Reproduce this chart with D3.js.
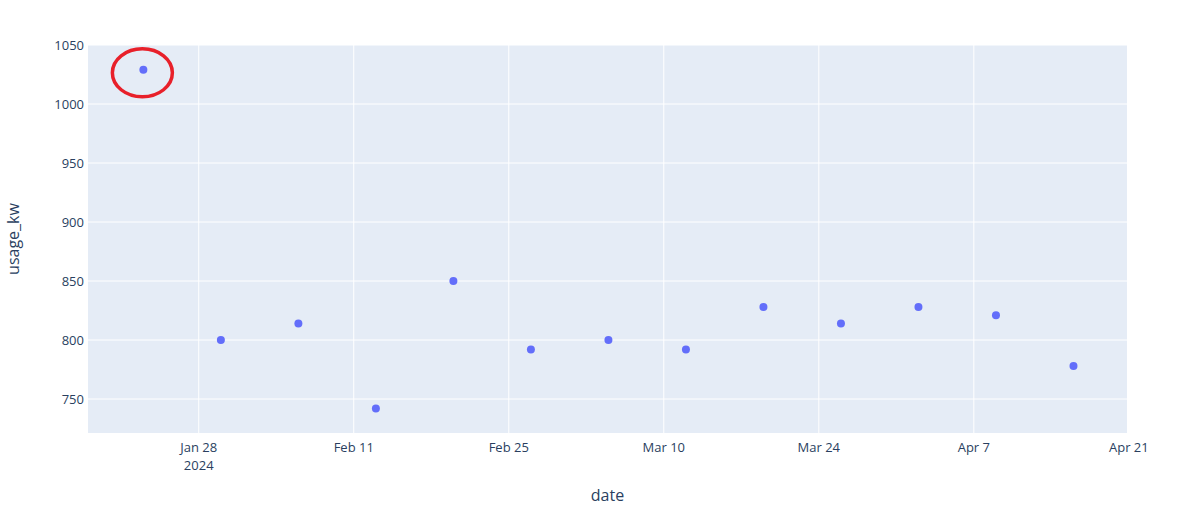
<!DOCTYPE html>
<html><head><meta charset="utf-8">
<script src="https://cdn.jsdelivr.net/npm/d3@7"></script>
<style>body{margin:0;background:#fff}text{font-family:"Open Sans",sans-serif;fill:#2a3f5f}</style>
</head><body><svg id="c" width="1195" height="516"></svg>
<script>
const dates = ["2024-01-23","2024-01-30","2024-02-06","2024-02-13","2024-02-20","2024-02-27","2024-03-05","2024-03-12","2024-03-19","2024-03-26","2024-04-02","2024-04-09","2024-04-16"];
const usage = [1029,800,814,742,850,792,800,792,828,814,828,821,778];
const xTicks = ["2024-01-28","2024-02-11","2024-02-25","2024-03-10","2024-03-24","2024-04-07","2024-04-21"];
const xTickLabels = ["Jan 28","Feb 11","Feb 25","Mar 10","Mar 24","Apr 7","Apr 21"];
const yTicks = [750,800,850,900,950,1000,1050];
const highlightIndex = 0;

const p = d3.timeParse("%Y-%m-%d");
const L=88,R=1127,T=45,B=433;
const svg=d3.select("#c");
const x=d3.scaleTime().domain([new Date(2024,0,18,0), new Date(2024,3,20,20)]).range([L,R]);
const y=d3.scaleLinear().domain([721.2,1050]).range([B,T]);
svg.append("rect").attr("x",L).attr("y",T).attr("width",R-L).attr("height",B-T).attr("fill","#e5ecf6");
const g=svg.append("g");
xTicks.forEach(t=>g.append("line").attr("x1",x(p(t))).attr("x2",x(p(t))).attr("y1",T).attr("y2",B).attr("stroke","#fff").attr("stroke-width",1));
yTicks.forEach(t=>g.append("line").attr("x1",L).attr("x2",R).attr("y1",y(t)).attr("y2",y(t)).attr("stroke","#fff").attr("stroke-width",1));
xTicks.forEach((t,i)=>{
  const tx=svg.append("text").attr("x",x(p(t))).attr("y",B+19).attr("text-anchor","middle").attr("font-size",13).text(xTickLabels[i]);
  if(i===0) svg.append("text").attr("x",x(p(t))).attr("y",B+37).attr("text-anchor","middle").attr("font-size",13).text("2024");
});
yTicks.forEach(t=>svg.append("text").attr("x",L-4).attr("y",y(t)+5).attr("text-anchor","end").attr("font-size",13).text(t));
svg.append("text").attr("x",(L+R)/2).attr("y",501).attr("text-anchor","middle").attr("font-size",16).text("date");
svg.append("text").attr("transform",`translate(19,${(T+B)/2}) rotate(-90)`).attr("text-anchor","middle").attr("font-size",16).text("usage_kw");
svg.selectAll("circle.pt").data(dates).join("circle").attr("class","pt")
  .attr("cx",(d)=>x(p(d))).attr("cy",(d,i)=>y(usage[i])).attr("r",4).attr("fill","#636efa");
svg.append("ellipse").attr("cx",x(p(dates[highlightIndex]))-1).attr("cy",y(usage[highlightIndex])+3)
  .attr("rx",30).attr("ry",24).attr("fill","none").attr("stroke","#e8202a").attr("stroke-width",3.5);
</script></body></html>
